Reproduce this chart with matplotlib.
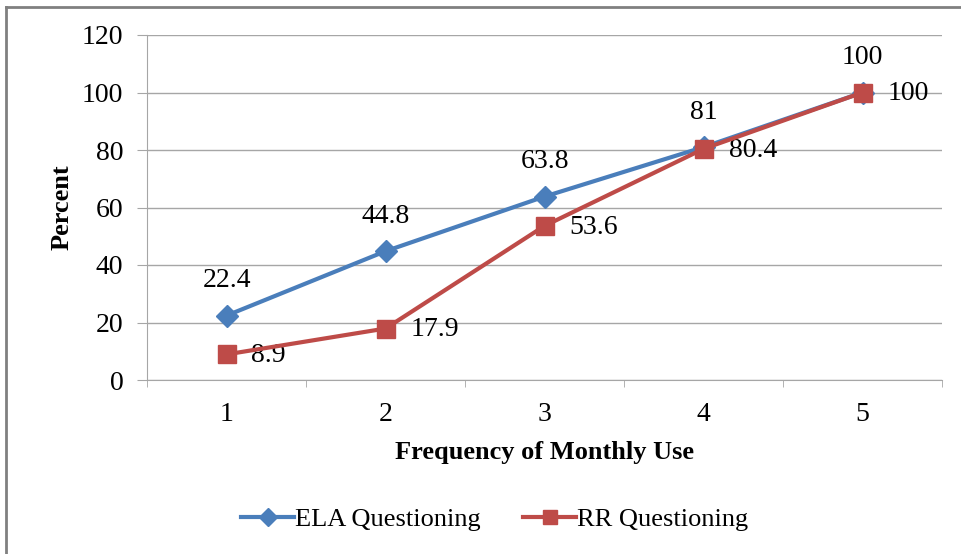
import matplotlib
matplotlib.use("Agg")
import matplotlib.pyplot as plt
from matplotlib.lines import Line2D
import numpy as np

# data
freq = [1, 2, 3, 4, 5]
ela = [22.4, 44.8, 63.8, 81, 100]
rr = [8.9, 17.9, 53.6, 80.4, 100]
ela_labels = ["22.4", "44.8", "63.8", "81", "100"]
rr_labels = ["8.9", "17.9", "53.6", "80.4", "100"]

plt.rcParams['font.family'] = ['Liberation Serif', 'DejaVu Serif']
fs = 19
nfs = 20  # numbers

fig = plt.figure(figsize=(9.61, 5.54), dpi=100)
ax = fig.add_axes([147/961, 1-380/554, 795/961, 345/554])

blue = "#4A7EBB"
red = "#BE4B48"
grid = "#A6A6A6"

ax.plot(freq, ela, color=blue, lw=3, marker="D", ms=11, mfc=blue, mec=blue,
        label="ELA Questioning", zorder=3)
ax.plot(freq, rr, color=red, lw=3, marker="s", ms=13, mfc=red, mec=red,
        label="RR Questioning", zorder=4)

for x, y, t in zip(freq, ela, ela_labels):
    ax.annotate(t, (x, y), xytext=(0, 25), textcoords="offset points",
                ha="center", va="center", fontsize=nfs)
for x, y, t in zip(freq, rr, rr_labels):
    ax.annotate(t, (x, y), xytext=(18, -1), textcoords="offset points",
                ha="left", va="center", fontsize=nfs)

ax.set_xlim(0.5, 5.5)
ax.set_ylim(0, 120)
ax.set_yticks(np.arange(0, 121, 20))
ax.set_xticks(freq)
ax.set_xticks(np.arange(0.5, 5.6, 1), minor=True)
ax.tick_params(axis="x", which="major", length=0, labelsize=nfs, pad=16)
ax.tick_params(axis="x", which="minor", length=5, color=grid, direction="out")
ax.tick_params(axis="y", length=7, color=grid, labelsize=nfs, pad=10)
ax.grid(axis="y", color=grid, lw=1)
ax.set_axisbelow(True)
for s in ["top", "right"]:
    ax.spines[s].set_visible(False)
for s in ["left", "bottom"]:
    ax.spines[s].set_color(grid)

ax.set_xlabel("Frequency of Monthly Use", fontsize=fs, fontweight="bold", labelpad=10)
ax.set_ylabel("Percent", fontsize=fs, fontweight="bold", labelpad=6)

leg = fig.legend(loc="center", bbox_to_anchor=(0.515, 1-519/554), ncol=2, frameon=False,
                 fontsize=fs, handlelength=2.0, columnspacing=1.6, handletextpad=0.05,
                 markerscale=0.8)

# outer frame (left and top)
fig.add_artist(Line2D([6/961, 6/961], [0, 1-7/554], color="#808080", lw=2,
                      transform=fig.transFigure))
fig.add_artist(Line2D([6/961, 1], [1-7/554, 1-7/554], color="#808080", lw=2,
                      transform=fig.transFigure))

fig.savefig("out.png", dpi=100)
